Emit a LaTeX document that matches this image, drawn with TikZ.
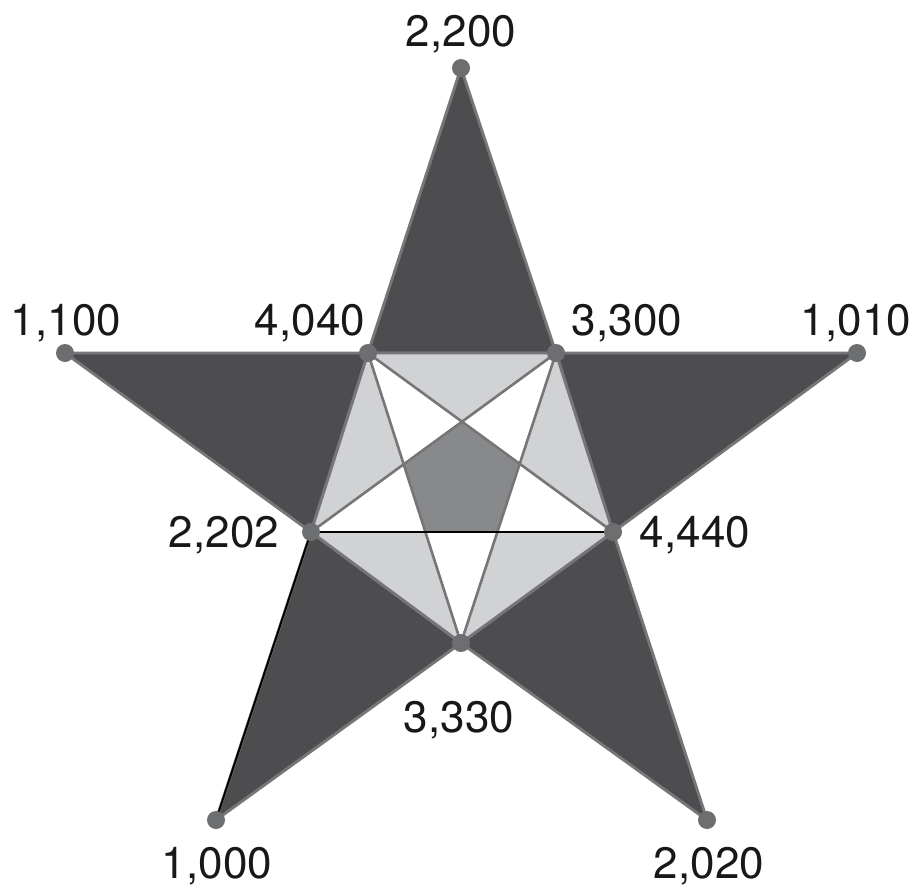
\documentclass[tikz,border=0pt]{standalone}
\usepackage{fontspec}
\setmainfont{TeX Gyre Heros}
\definecolor{armc}{HTML}{4D4D4F}
\definecolor{edgec}{HTML}{767678}
\definecolor{lightc}{HTML}{D1D2D4}
\definecolor{midc}{HTML}{88898B}
\definecolor{dotc}{HTML}{6D6E70}
\definecolor{txtc}{HTML}{1A1718}
\begin{document}
\begin{tikzpicture}[x=1pt,y=-1pt,
  arm/.style={fill=armc,draw=edgec,line width=2.9pt,line join=round},
  inner/.style={fill=lightc,draw=edgec,line width=2.9pt,line join=round},
  diag/.style={draw=edgec,line width=2.6pt},
  blk/.style={draw=black,line width=1.9pt},
  dot/.style={circle,fill=dotc,minimum size=18pt,inner sep=0pt},
  lbl/.style={anchor=base,inner sep=0pt,text=txtc,font=\fontsize{44}{50}\selectfont}]
\useasboundingbox (0,0) rectangle (917,891);
\coordinate (p2200) at (461,68);
\coordinate (p1100) at (65,353);
\coordinate (p1010) at (857,353);
\coordinate (p4040) at (368,353);
\coordinate (p3300) at (556,353);
\coordinate (p2202) at (311,532);
\coordinate (p4440) at (613,532);
\coordinate (p3330) at (461,643);
\coordinate (p1000) at (216,820);
\coordinate (p2020) at (707,820);
% arms
\filldraw[arm] (p2200) -- (p4040) -- (p3300) -- cycle;
\filldraw[arm] (p1100) -- (p4040) -- (p2202) -- cycle;
\filldraw[arm] (p1010) -- (p3300) -- (p4440) -- cycle;
\filldraw[arm] (p1000) -- (p2202) -- (p3330) -- cycle;
\filldraw[arm] (p2020) -- (p3330) -- (p4440) -- cycle;
% inner pentagon
\filldraw[inner] (p4040) -- (p3300) -- (p4440) -- (p3330) -- (p2202) -- cycle;
% pentagram
\fill[white] (p4040) -- (p4440) -- (p2202) -- (p3300) -- (p3330) -- cycle;
\coordinate (q1) at (intersection of p4040--p4440 and p3300--p2202);
\coordinate (q2) at (intersection of p3300--p3330 and p4040--p4440);
\coordinate (q3) at (intersection of p3300--p3330 and p2202--p4440);
\coordinate (q4) at (intersection of p4040--p3330 and p2202--p4440);
\coordinate (q5) at (intersection of p4040--p3330 and p3300--p2202);
\fill[midc] (q1) -- (q2) -- (q3) -- (q4) -- (q5) -- cycle;
\draw[diag] (p4040) -- (p4440);
\draw[diag] (p4040) -- (p3330);
\draw[diag] (p3300) -- (p2202);
\draw[diag] (p3300) -- (p3330);
\draw[blk] (p4440) -- (p2202) -- (p1000);
% dots
\foreach \p in {2200,1100,1010,4040,3300,2202,4440,3330,1000,2020}
  \node[dot] (d\p) at (p\p) {};
% labels
\node[lbl] (t2200) at (461,47) {2,200};
\node[lbl] (t1100) at (66,335) {1,100};
\node[lbl] (t4040) at (310,335) {4,040};
\node[lbl] (t3300) at (627,335) {3,300};
\node[lbl] (t1010) at (856,335) {1,010};
\node[lbl] (t2202) at (224,547) {2,202};
\node[lbl] (t4440) at (695,547) {4,440};
\node[lbl] (t3330) at (459,732) {3,330};
\node[lbl] (t1000) at (217,878) {1,000};
\node[lbl] (t2020) at (709,878) {2,020};
\end{tikzpicture}
\end{document}
